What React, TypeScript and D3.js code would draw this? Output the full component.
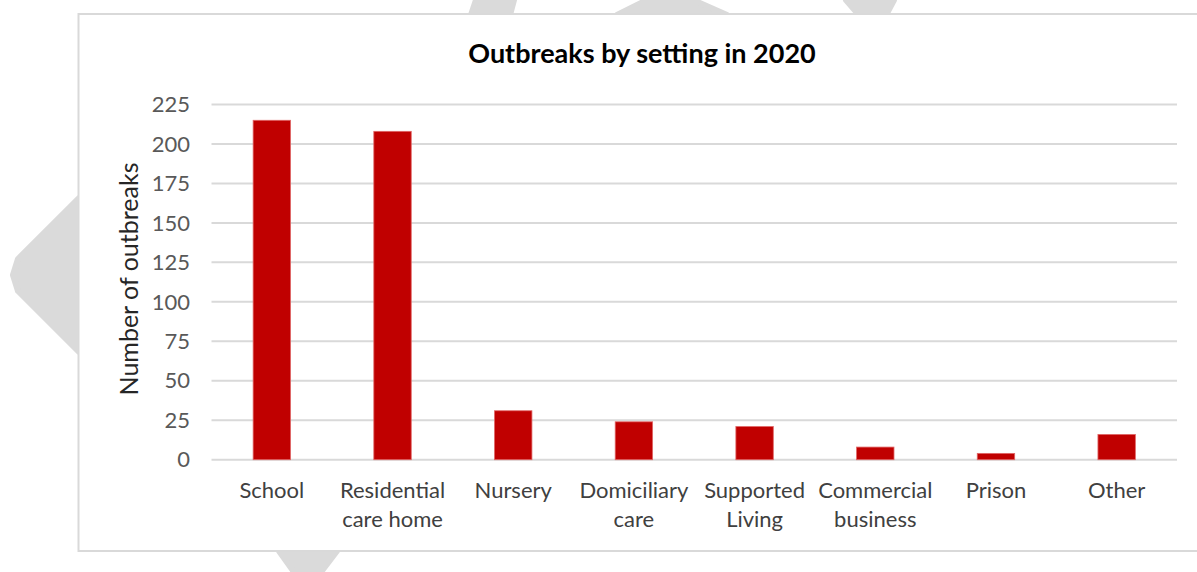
import React from "react";
import * as d3 from "d3";

const categories = [
  "School",
  "Residential care home",
  "Nursery",
  "Domiciliary care",
  "Supported Living",
  "Commercial business",
  "Prison",
  "Other",
];
const categoryLines = [
  ["School"],
  ["Residential", "care home"],
  ["Nursery"],
  ["Domiciliary", "care"],
  ["Supported", "Living"],
  ["Commercial", "business"],
  ["Prison"],
  ["Other"],
];
const outbreaks = [215, 208, 31, 24, 21, 8, 4, 16];
const yTicks = [0, 25, 50, 75, 100, 125, 150, 175, 200, 225];
const chartTitle = "Outbreaks by setting in 2020";
const yTitle = "Number of outbreaks";

// decorative watermark shapes behind the chart frame
const watermarks: [number, number][][] = [
  [[79, 198], [18, 259], [13, 275], [18, 291], [79, 352]],
  [[471, 15], [476, 0], [514, 0], [510, 15]],
  [[617, 15], [647, 0], [693, 0], [727, 15]],
  [[859, 15], [846, 0], [894, 0], [886, 15]],
  [[279, 551], [337, 551], [321, 572], [294, 572]],
];

const FONT = "Lato, 'Open Sans', sans-serif";

export default function App() {
  const W = 1197;
  const H = 572;
  const x = d3
    .scaleBand<string>()
    .domain(categories)
    .range([211.5, 1177])
    .paddingInner(0.69)
    .paddingOuter(0.345);
  const y = d3.scaleLinear().domain([0, 225]).range([459.7, 104.5]);
  const line = d3.line();

  return (
    <div style={{ position: "absolute", left: 0, top: 0 }}>
      <svg width={W} height={H} style={{ display: "block", background: "#fff" }}>
        {watermarks.map((pts, i) => (
          <path
            key={i}
            d={line(pts) + "Z"}
            fill="#dadada"
            stroke="#dadada"
            strokeWidth={6}
            strokeLinejoin="round"
          />
        ))}
        <rect x={78.5} y={14} width={W} height={537} fill="#fff" stroke="#d9d9d9" strokeWidth={2} />
        <text
          x={642}
          y={63}
          textAnchor="middle"
          fontFamily={FONT}
          fontWeight="bold"
          fontSize={27}
          fill="#000"
        >
          {chartTitle}
        </text>
        {yTicks.map((t) => (
          <g key={t}>
            <line x1={211.5} x2={1177} y1={y(t)} y2={y(t)} stroke="#d9d9d9" strokeWidth={2} />
            <text
              x={190}
              y={y(t)}
              dy="0.35em"
              textAnchor="end"
              fontFamily={FONT}
              fontSize={22}
              fill="#595959"
            >
              {t}
            </text>
          </g>
        ))}
        {categories.map((c, i) => (
          <rect
            key={c}
            x={x(c)}
            y={y(outbreaks[i])}
            width={x.bandwidth()}
            height={y(0) - y(outbreaks[i])}
            fill="#c00000"
            stroke="#e06666"
            strokeWidth={0.8}
          />
        ))}
        {categories.map((c, i) => (
          <text
            key={c}
            x={(x(c) as number) + x.bandwidth() / 2}
            y={498}
            textAnchor="middle"
            fontFamily={FONT}
            fontSize={22}
            fill="#404040"
          >
            {categoryLines[i].map((l, j) => (
              <tspan key={j} x={(x(c) as number) + x.bandwidth() / 2} dy={j === 0 ? 0 : 29}>
                {l}
              </tspan>
            ))}
          </text>
        ))}
        <text
          transform="translate(138,279) rotate(-90)"
          textAnchor="middle"
          fontFamily={FONT}
          fontSize={25}
          fill="#262626"
        >
          {yTitle}
        </text>
      </svg>
    </div>
  );
}
